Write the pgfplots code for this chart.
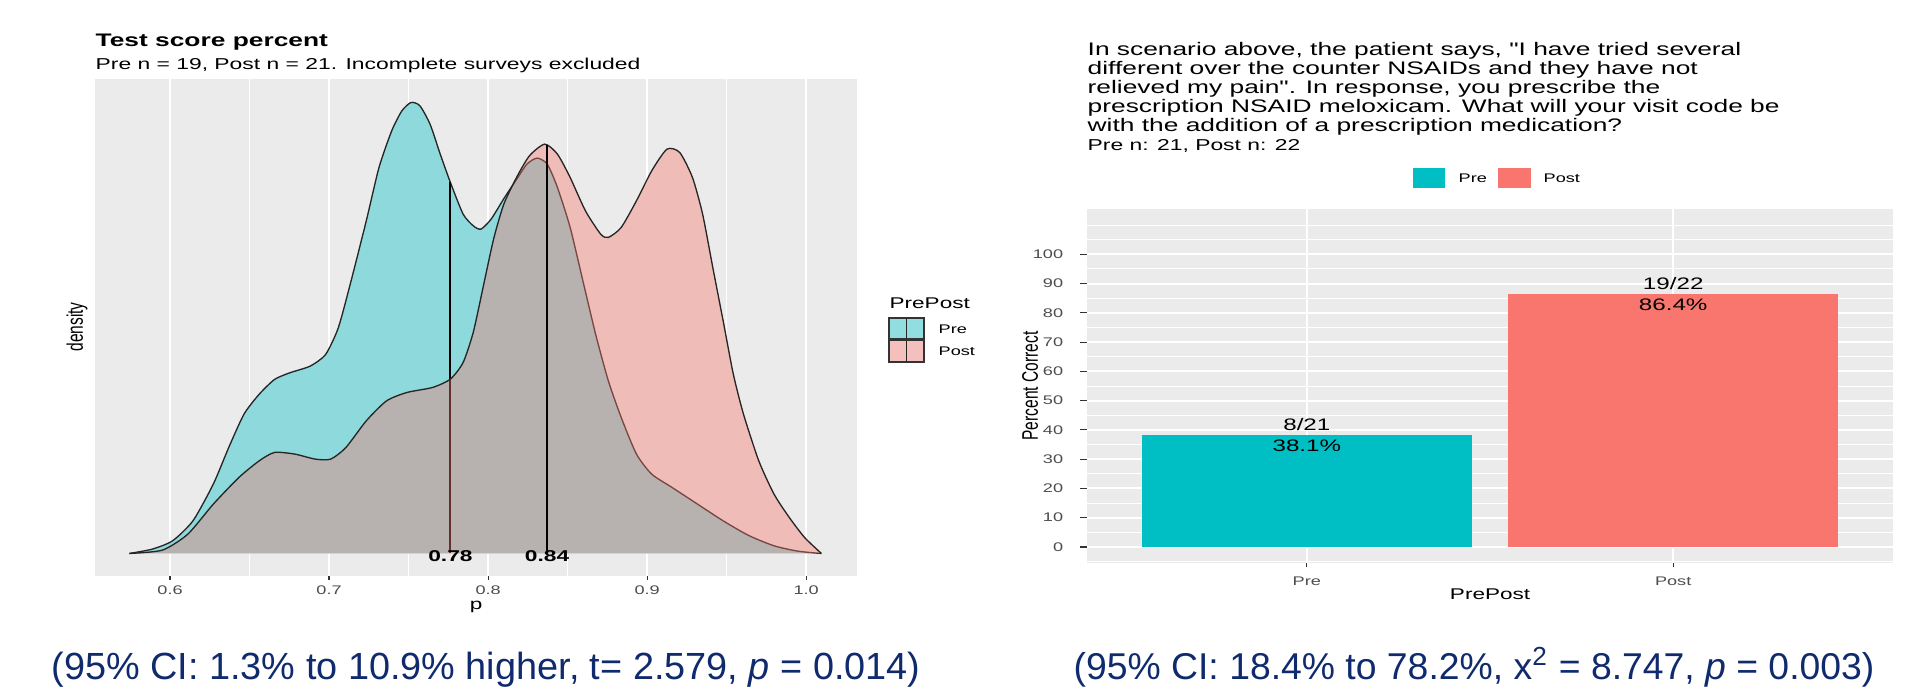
\documentclass[border=0pt]{standalone}
\usepackage{fontspec}
\setmainfont{Liberation Sans}
\newfontfamily\ggf[FakeStretch=1.45]{Liberation Sans}
\usepackage{graphicx}
\usepackage{pgfplots}
\usepackage{pgfplotstable}
\pgfplotsset{compat=1.18}

\definecolor{panel}{HTML}{EBEBEB}
\definecolor{ggteal}{HTML}{00BFC4}
\definecolor{ggred}{HTML}{F8766D}
\definecolor{ticklab}{HTML}{4D4D4D}
\definecolor{tickcol}{HTML}{333333}
\definecolor{navy}{RGB}{16,42,110}
\definecolor{keyteal}{RGB}{145,221,224}
\definecolor{keyred}{RGB}{244,192,189}

\newcommand\fbase{\ggf\fontsize{3.75}{4.5}\selectfont}
\newcommand\faxis{\ggf\fontsize{4.66}{5.5}\selectfont}
\newcommand\ftitle{\ggf\fontsize{5.45}{5.7}\selectfont}
\newcommand\fsub{\ggf\fontsize{4.73}{5.5}\selectfont}
\newcommand\fbar{\ggf\fontsize{5.0}{6.3}\selectfont}

\pgfplotstableread{
p d
0.5744 0
0.5888 0.0096
0.6016 0.0281
0.6144 0.0724
0.6272 0.1538
0.6369 0.2350
0.6465 0.3089
0.6561 0.3532
0.6657 0.3858
0.6753 0.4006
0.6881 0.4154
0.6978 0.4412
0.7058 0.5004
0.7138 0.6039
0.7234 0.7376
0.7314 0.8559
0.7394 0.9372
0.7458 0.9815
0.7516 1.0
0.7571 0.9926
0.7635 0.9519
0.7699 0.8854
0.7763 0.8226
0.7843 0.7524
0.7907 0.7265
0.7955 0.7191
0.8019 0.7413
0.8099 0.7867
0.8179 0.8293
0.8244 0.8633
0.8308 0.8766
0.8372 0.8633
0.8436 0.8115
0.8516 0.7228
0.8596 0.6046
0.8676 0.4863
0.8756 0.3829
0.8837 0.3016
0.8933 0.2203
0.9029 0.1759
0.9157 0.1463
0.9317 0.1094
0.9478 0.0724
0.9638 0.0400
0.9798 0.0170
0.9950 0.0050
1.0096 0
}\predata

\pgfplotstableread{
p d
0.5744 0
0.5952 0.0074
0.6112 0.0429
0.6272 0.1094
0.6433 0.1685
0.6561 0.2055
0.6657 0.2240
0.6785 0.2203
0.6913 0.2092
0.7010 0.2092
0.7106 0.2350
0.7234 0.2941
0.7362 0.3385
0.7490 0.3570
0.7651 0.3681
0.7763 0.3866
0.7843 0.4235
0.7907 0.4908
0.7971 0.5942
0.8035 0.6977
0.8099 0.7746
0.8179 0.8337
0.8260 0.8817
0.8356 0.9076
0.8436 0.8854
0.8516 0.8337
0.8612 0.7598
0.8708 0.7080
0.8756 0.7007
0.8837 0.7228
0.8933 0.7820
0.9029 0.8485
0.9125 0.8965
0.9205 0.8891
0.9285 0.8337
0.9349 0.7524
0.9413 0.6341
0.9478 0.5159
0.9542 0.3977
0.9606 0.3089
0.9702 0.2055
0.9798 0.1316
0.9894 0.0798
0.9990 0.0355
1.0096 0
}\postdata

\begin{document}
\begin{tikzpicture}
\path[use as bounding box] (0,0) rectangle (577.2pt,-206.7pt);

% ---------------- left: density plot ----------------
\begin{axis}[
  at={(28.5pt,-172.8pt)}, anchor=south west,
  scale only axis, width=228.6pt, height=149.1pt,
  xmin=0.5528, xmax=1.032, ymin=-0.05, ymax=1.052,
  axis background/.style={fill=panel},
  axis line style={draw=none},
  xtick={0.6,0.7,0.8,0.9,1.0},
  xticklabels={0.6,0.7,0.8,0.9,1.0},
  minor xtick={0.65,0.75,0.85,0.95},
  ytick=\empty,
  xtick pos=bottom, ytick pos=left,
  xmajorgrids, xminorgrids,
  major grid style={white, line width=0.55pt},
  minor grid style={white, line width=0.28pt},
  tick align=outside,
  minor tick length=0pt,
  xtick style={draw=tickcol, line width=0.35pt, /pgfplots/major tick length=1.3pt},
  xticklabel style={font=\fbase, text=ticklab, anchor=north, inner sep=0pt, yshift=1.4pt},
]
% opaque underlay so grid lines do not show through
\addplot[fill=panel, draw=none, smooth, tension=0.4, forget plot] table[x=p,y=d]{\predata} \closedcycle;
\addplot[fill=panel, draw=none, smooth, tension=0.4, forget plot] table[x=p,y=d]{\postdata} \closedcycle;
% Pre
\addplot[fill=ggteal, fill opacity=0.4, draw=none, smooth, tension=0.4, forget plot] table[x=p,y=d]{\predata} \closedcycle;
\addplot[draw=black!85, line width=0.4pt, smooth, tension=0.4, forget plot] table[x=p,y=d]{\predata};
\addplot[draw=black, line width=0.55pt, forget plot] coordinates {(0.7763,0) (0.7763,0.8226)};
% Post
\addplot[fill=ggred, fill opacity=0.4, draw=none, smooth, tension=0.4, forget plot] table[x=p,y=d]{\postdata} \closedcycle;
\addplot[draw=black!85, line width=0.4pt, smooth, tension=0.4, forget plot] table[x=p,y=d]{\postdata};
\addplot[draw=black, line width=0.55pt, forget plot] coordinates {(0.8371,0) (0.8371,0.906)};
\node[font=\ggf\bfseries\fontsize{4.7}{5}\selectfont, inner sep=0pt, yshift=-0.9pt] at (axis cs:0.7763,0) {0.78};
\node[font=\ggf\bfseries\fontsize{4.7}{5}\selectfont, inner sep=0pt, yshift=-0.9pt] at (axis cs:0.8371,0) {0.84};
\end{axis}

% ---------------- right: bar chart ----------------
\begin{axis}[
  at={(326.1pt,-168.9pt)}, anchor=south west,
  scale only axis, width=241.8pt, height=106.2pt,
  xmin=0.4, xmax=2.6, ymin=-5.5, ymax=115.5,
  axis background/.style={fill=panel},
  axis line style={draw=none},
  xtick={1,2}, xticklabels={Pre,Post},
  ytick={0,10,20,30,40,50,60,70,80,90,100},
  yticklabels={0,10,20,30,40,50,60,70,80,90,100},
  minor ytick={-5,5,15,25,35,45,55,65,75,85,95,105,110},
  xtick pos=bottom, ytick pos=left,
  xmajorgrids, ymajorgrids, yminorgrids,
  major grid style={white, line width=0.55pt},
  minor grid style={white, line width=0.3pt},
  tick align=outside,
  minor tick length=0pt,
  xtick style={draw=tickcol, line width=0.35pt, /pgfplots/major tick length=1.3pt},
  ytick style={draw=tickcol, line width=0.35pt, /pgfplots/major tick length=2.1pt},
  xticklabel style={font=\fbase, text=ticklab, anchor=north, inner sep=0pt, yshift=0.4pt},
  yticklabel style={font=\fbase, text=ticklab, anchor=east, inner sep=0pt, xshift=-2.7pt},
]
\addplot[ybar, bar width=0.9, bar shift=0pt, fill=ggteal, draw=none] coordinates {(1,38.1)};
\addplot[ybar, bar width=0.9, bar shift=0pt, fill=ggred, draw=none] coordinates {(2,86.4)};
\node[align=center, font=\fbar, inner sep=0pt] at (axis cs:1,38.1) {8/21\\38.1\%};
\node[align=center, font=\fbar, inner sep=0pt] at (axis cs:2,86.4) {19/22\\86.4\%};
\end{axis}

% ---------------- texts and legends (pixel coordinates) ----------------
\begin{scope}[x=0.3pt, y=-0.3pt]
% left
\node[anchor=base west, inner sep=0pt] at (95,46) {\ftitle\bfseries Test score percent};
\node[anchor=base west, inner sep=0pt] at (95,69) {\fsub Pre n = 19, Post n = 21. Incomplete surveys excluded};
\node[rotate=90, inner sep=0pt] at (77,327) {\scalebox{1}[1.45]{\fontsize{4.66}{5}\selectfont density}};
\node[inner sep=0pt] at (476,607) {\faxis p};
\node[anchor=base west, inner sep=0pt] at (889,308) {\faxis PrePost};
\filldraw[fill=keyteal, draw=black!80, line width=0.35pt] (889,318) rectangle (924,339);
\filldraw[fill=keyred, draw=black!80, line width=0.35pt] (889,340) rectangle (924,362);
\draw[black!85, line width=0.45pt] (906.5,318) -- (906.5,339);
\draw[black!85, line width=0.45pt] (906.5,340) -- (906.5,362);
\node[anchor=base west, inner sep=0pt] at (938,333) {\fbase Pre};
\node[anchor=base west, inner sep=0pt] at (938,355) {\fbase Post};
% right
\node[anchor=base west, inner sep=0pt] at (1087,55) {\ftitle In scenario above, the patient says, "I have tried several};
\node[anchor=base west, inner sep=0pt] at (1087,74) {\ftitle different over the counter NSAIDs and they have not};
\node[anchor=base west, inner sep=0pt] at (1087,93) {\ftitle relieved my pain". In response, you prescribe the};
\node[anchor=base west, inner sep=0pt] at (1087,112) {\ftitle prescription NSAID meloxicam. What will your visit code be};
\node[anchor=base west, inner sep=0pt] at (1087,131) {\ftitle with the addition of a prescription medication?};
\node[anchor=base west, inner sep=0pt] at (1087,150) {\fsub Pre n: 21, Post n: 22};
\fill[ggteal] (1413,168) rectangle (1445,188);
\fill[ggred] (1498,168) rectangle (1531,188);
\node[anchor=base west, inner sep=0pt] at (1458,182) {\fbase Pre};
\node[anchor=base west, inner sep=0pt] at (1543,182) {\fbase Post};
\node[rotate=90, inner sep=0pt] at (1030,386) {\scalebox{1}[1.45]{\fontsize{4.66}{5}\selectfont Percent Correct}};
\node[inner sep=0pt] at (1490,594) {\faxis PrePost};
% captions
\node[anchor=base, inner sep=0pt, text=navy] at (486,679) {\fontsize{11.35}{13}\selectfont (95\% CI: 1.3\% to 10.9\% higher, t= 2.579, \textit{p} = 0.014)};
\node[anchor=base, inner sep=0pt, text=navy] at (1474,679) {\fontsize{11.2}{13}\selectfont (95\% CI: 18.4\% to 78.2\%, x\textsuperscript{2} = 8.747, \textit{p} = 0.003)};
\end{scope}
\end{tikzpicture}
\end{document}
